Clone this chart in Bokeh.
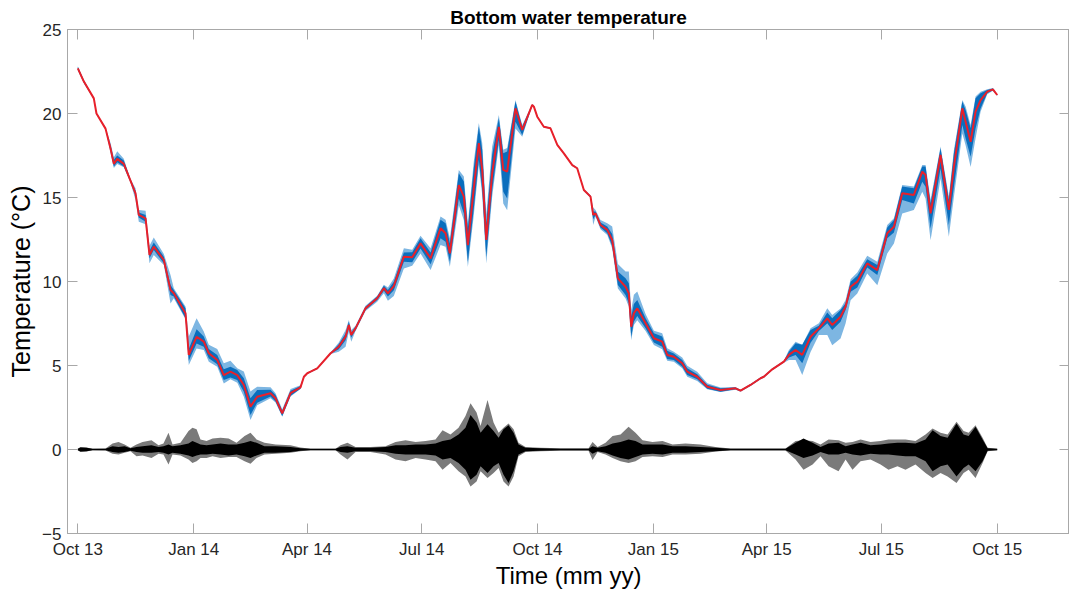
import numpy as np
import pandas as pd
from bokeh.plotting import figure
from bokeh.models import (Range1d, FixedTicker, DatetimeTickFormatter, LinearAxis,
                          DatetimeAxis, ColumnDataSource)
from bokeh.embed import file_html
from bokeh.resources import INLINE

# ---------------- data ----------------
START = "2013-10-01"
tick_dates = ["2013-10-01", "2014-01-01", "2014-04-01", "2014-07-01", "2014-10-01",
              "2015-01-01", "2015-04-01", "2015-07-01", "2015-10-01"]
y_ticks = [-5, 0, 5, 10, 15, 20, 25]

# days since START, smoothed temperature (red)
temp_day = [0, 4.8, 12.7, 14.8, 22.0, 26.0, 28.6, 31.3, 36.5, 41.8,
            45.8, 48.4, 53.8, 56.9, 60.3, 68.3, 73.6, 76.2, 85.5, 88.1,
            94.3, 100.0, 104.0, 110.7, 115.9, 121.2, 126.6, 131.8, 137.1, 142.4,
            153.0, 157.0, 162.3, 168.9, 176.8, 179.5, 182.2, 184.8, 190.1, 200.7,
            207.2, 212.6, 215.2, 217.1, 220.5, 228.4, 237.7, 243.0, 246.2, 250.9,
            258.9, 265.5, 272.1, 280.1, 288.0, 292.0, 295.4, 302.5, 306.5, 309.7,
            314.4, 318.4, 321.1, 324.3, 329.0, 334.3, 337.8, 340.9, 347.5, 352.9,
            360.8, 362.1, 364.8, 370.0, 375.3, 380.7, 385.9, 392.6, 396.5, 401.8,
            407.1, 409.2, 411.1, 415.0, 420.4, 424.3, 428.8, 434.9, 437.5, 439.4,
            441.5, 444.2, 450.8, 457.4, 464.0, 468.0, 473.2, 479.9, 483.9, 491.8,
            499.8, 510.3, 522.2, 526.2, 534.1, 542.1, 544.7, 551.4, 560.6, 564.6,
            569.9, 575.2, 581.8, 588.4, 595.1, 599.0, 605.6, 609.6, 613.6, 618.9,
            626.8, 634.8, 642.7, 648.0, 654.6, 663.8, 670.5, 673.1, 677.1, 685.0,
            691.6, 695.6, 702.3, 704.9, 708.9, 712.8, 716.8, 722.1, 726.6, 730.0]
temp = [22.69, 21.9, 20.9, 20.0, 19.1, 17.9, 17.0, 17.3, 17.0, 16.0,
        15.25, 13.96, 13.76, 11.58, 12.07, 11.28, 9.49, 9.30, 8.11, 5.63,
        6.71, 6.42, 5.73, 5.33, 4.43, 4.63, 4.43, 3.84, 2.55, 3.14,
        3.35, 3.05, 2.15, 3.35, 3.70, 4.33, 4.54, 4.63, 4.83, 5.73,
        6.12, 6.71, 7.41, 6.82, 7.21, 8.40, 9.00, 9.60, 9.30, 9.73,
        11.48, 11.44, 12.27, 11.38, 13.17, 12.87, 11.68, 15.74, 15.05, 12.17,
        15.55, 18.23, 16.64, 12.47, 16.44, 19.21, 16.64, 16.54, 20.31, 19.02,
        20.51, 20.41, 19.81, 19.21, 19.12, 18.13, 17.63, 16.93, 16.74, 15.45,
        15.05, 13.96, 14.06, 13.36, 13.07, 12.47, 10.19, 9.69, 9.30, 7.31,
        8.11, 8.40, 7.51, 6.62, 6.42, 5.63, 5.52, 5.13, 4.63, 4.33,
        3.74, 3.54, 3.64, 3.50, 3.84, 4.24, 4.33, 4.77, 5.23, 5.63,
        5.92, 5.63, 6.71, 7.21, 7.81, 7.41, 7.90, 8.50, 9.69, 9.99,
        11.08, 10.68, 12.87, 13.26, 15.25, 15.15, 16.54, 16.34, 14.06, 17.53,
        14.26, 16.83, 20.31, 19.51, 18.32, 20.11, 20.80, 21.30, 21.44, 21.10]

# spread of the raw records around the red line (dark blue / light blue), at temp_day
dark_up = [0.10, 0.08, 0.03, 0.03, 0.04, 0.20, 0.25, 0.20, 0.20, 0.08,
           0.15, 0.15, 0.20, 0.25, 0.25, 0.20, 0.30, 0.20, 0.30, 0.35,
           0.45, 0.30, 0.25, 0.30, 0.35, 0.30, 0.30, 0.40, 0.50, 0.40,
           0.20, 0.20, 0.15, 0.15, 0.08, 0.05, 0.03, 0.03, 0.03, 0.03,
           0.15, 0.20, 0.20, 0.15, 0.10, 0.10, 0.10, 0.15, 0.20, 0.25,
           0.25, 0.30, 0.30, 0.35, 0.50, 0.60, 0.60, 0.70, 0.90, 1.00,
           1.20, 1.00, 1.20, 1.00, 1.10, 0.50, 1.00, 1.20, 0.40, 0.20,
           0.03, 0.03, 0.03, 0.03, 0.03, 0.03, 0.03, 0.03, 0.03, 0.03,
           0.05, 0.20, 0.10, 0.15, 0.20, 0.35, 0.40, 0.50, 0.60, 0.60,
           0.55, 0.50, 0.30, 0.30, 0.30, 0.25, 0.20, 0.20, 0.20, 0.15,
           0.12, 0.10, 0.05, 0.04, 0.04, 0.04, 0.04, 0.04, 0.04, 0.20,
           0.40, 0.60, 0.40, 0.15, 0.35, 0.40, 0.40, 0.20, 0.30, 0.35,
           0.25, 0.30, 0.35, 0.40, 0.40, 0.40, 0.30, 0.50, 0.60, 0.40,
           0.60, 0.80, 0.40, 0.70, 0.80, 0.80, 0.40, 0.10, 0.05, 0.03]
dark_lo = [-0.10, -0.08, -0.03, -0.03, -0.04, -0.15, -0.15, -0.20, -0.15, -0.08,
           -0.15, -0.15, -0.20, -0.20, -0.20, -0.20, -0.30, -0.20, -0.30, -0.35,
           -0.40, -0.30, -0.30, -0.25, -0.30, -0.35, -0.30, -0.40, -0.50, -0.35,
           -0.20, -0.20, -0.15, -0.15, -0.08, -0.05, -0.03, -0.03, -0.03, -0.03,
           -0.15, -0.20, -0.20, -0.15, -0.10, -0.10, -0.10, -0.15, -0.20, -0.25,
           -0.30, -0.30, -0.30, -0.35, -0.60, -0.50, -0.50, -0.80, -1.00, -1.00,
           -1.20, -1.00, -1.20, -1.00, -1.00, -0.80, -1.30, -1.60, -0.80, -0.30,
           -0.03, -0.03, -0.03, -0.03, -0.03, -0.03, -0.03, -0.03, -0.03, -0.03,
           -0.05, -0.25, -0.10, -0.15, -0.20, -0.35, -0.40, -0.50, -0.60, -0.60,
           -0.50, -0.45, -0.30, -0.25, -0.30, -0.25, -0.20, -0.20, -0.20, -0.15,
           -0.12, -0.10, -0.05, -0.04, -0.04, -0.04, -0.04, -0.04, -0.04, -0.15,
           -0.30, -0.50, -0.35, -0.15, -0.30, -0.30, -0.30, -0.20, -0.30, -0.35,
           -0.25, -0.30, -0.30, -0.35, -0.40, -0.50, -0.60, -0.70, -0.90, -0.80,
           -0.90, -1.20, -1.00, -1.00, -0.90, -1.00, -0.50, -0.10, -0.05, -0.03]
light_up = [0.12, 0.10, 0.05, 0.05, 0.06, 0.35, 0.40, 0.45, 0.30, 0.10,
            0.30, 0.30, 0.45, 0.55, 0.55, 0.35, 0.90, 0.30, 0.40, 1.10,
            1.10, 0.60, 0.50, 0.65, 0.70, 0.65, 0.40, 0.80, 0.90, 0.60,
            0.35, 0.30, 0.25, 0.25, 0.12, 0.08, 0.05, 0.05, 0.05, 0.05,
            0.25, 0.40, 0.30, 0.30, 0.15, 0.15, 0.15, 0.20, 0.35, 0.45,
            0.50, 0.45, 0.45, 0.60, 0.70, 0.80, 0.90, 0.90, 1.20, 1.30,
            1.60, 1.20, 1.60, 1.50, 1.60, 0.70, 1.20, 1.40, 0.50, 0.30,
            0.05, 0.05, 0.05, 0.05, 0.05, 0.05, 0.05, 0.05, 0.05, 0.05,
            0.08, 0.45, 0.20, 0.30, 0.40, 0.80, 0.85, 0.90, 1.30, 1.00,
            1.10, 1.00, 0.55, 0.45, 0.50, 0.40, 0.30, 0.35, 0.35, 0.30,
            0.20, 0.15, 0.08, 0.06, 0.06, 0.06, 0.06, 0.06, 0.06, 0.30,
            0.50, 0.60, 0.50, 0.30, 0.60, 0.60, 0.50, 0.40, 0.45, 0.55,
            0.45, 0.50, 0.50, 0.50, 0.50, 0.50, 0.40, 0.60, 0.80, 0.50,
            0.80, 1.00, 0.50, 0.90, 1.00, 0.90, 0.50, 0.15, 0.08, 0.04]
light_lo = [-0.12, -0.10, -0.05, -0.05, -0.06, -0.25, -0.25, -0.30, -0.20, -0.10,
            -0.40, -0.40, -0.35, -0.50, -0.50, -0.30, -0.80, -0.30, -0.35, -0.60,
            -0.70, -0.50, -0.50, -0.40, -0.50, -0.45, -0.45, -0.70, -0.80, -0.50,
            -0.30, -0.25, -0.20, -0.20, -0.10, -0.08, -0.05, -0.05, -0.05, -0.05,
            -0.30, -0.60, -0.40, -0.40, -0.15, -0.15, -0.20, -0.30, -0.45, -0.60,
            -0.70, -0.50, -0.60, -0.70, -1.00, -0.80, -0.80, -1.20, -1.40, -1.30,
            -1.60, -1.30, -1.50, -1.40, -1.40, -1.10, -2.00, -2.30, -1.20, -0.40,
            -0.05, -0.05, -0.05, -0.05, -0.05, -0.05, -0.05, -0.05, -0.05, -0.05,
            -0.08, -0.60, -0.20, -0.25, -0.30, -0.50, -0.60, -0.70, -0.80, -0.80,
            -0.70, -0.70, -0.45, -0.40, -0.45, -0.35, -0.30, -0.30, -0.30, -0.25,
            -0.15, -0.12, -0.08, -0.06, -0.06, -0.06, -0.06, -0.06, -0.06, -0.30,
            -0.60, -1.20, -0.90, -0.40, -1.00, -1.20, -1.30, -1.00, -0.80, -0.70,
            -0.60, -0.90, -1.20, -1.00, -1.20, -0.90, -1.20, -1.40, -1.60, -1.40,
            -1.60, -1.80, -1.50, -1.40, -1.50, -1.60, -0.70, -0.15, -0.08, -0.04]

# residual (black = record 1, grey = record 2): envelopes around zero
res_day = [0, 2.1, 6.9, 11.7, 22.0, 27.6, 32.3, 37.1, 41.8, 46.6,
           51.4, 58.5, 64.1, 68.0, 72.0, 75.2, 81.5, 87.9, 91.0, 94.3,
           97.4, 102.2, 107.0, 113.3, 119.7, 126.0, 132.4, 137.1, 141.9, 148.2,
           157.0, 168.9, 176.8, 184.8, 204.6, 208.6, 214.1, 220.5, 232.4, 244.3,
           252.3, 260.2, 268.2, 276.1, 284.0, 289.6, 295.9, 302.3, 307.8, 311.8,
           316.6, 319.8, 325.3, 330.1, 334.1, 338.0, 342.0, 346.0, 349.9, 355.5,
           367.4, 383.3, 405.5, 408.7, 412.7, 419.0, 424.6, 430.9, 437.3, 442.8,
           448.4, 456.3, 464.3, 472.2, 482.5, 494.4, 506.3, 518.2, 561.9, 569.9,
           576.2, 583.4, 589.7, 596.1, 604.0, 609.6, 615.1, 621.5, 629.4, 637.4,
           643.7, 650.8, 657.2, 665.1, 673.1, 678.7, 685.0, 690.6, 697.7, 703.3,
           707.3, 712.8, 718.4, 722.4, 730.0]
black_up = [0.04, 0.12, 0.10, 0.04, 0.04, 0.20, 0.15, 0.20, 0.08, 0.15,
            0.20, 0.25, 0.15, 0.20, 0.30, 0.20, 0.25, 0.35, 0.50, 0.40,
            0.30, 0.25, 0.30, 0.35, 0.30, 0.30, 0.40, 0.50, 0.40, 0.20,
            0.20, 0.15, 0.08, 0.04, 0.04, 0.15, 0.20, 0.10, 0.10, 0.15,
            0.25, 0.25, 0.30, 0.30, 0.35, 0.50, 0.60, 0.90, 1.30, 2.05,
            1.60, 1.00, 1.50, 1.10, 0.70, 1.20, 1.45, 1.00, 0.30, 0.10,
            0.08, 0.05, 0.05, 0.20, 0.10, 0.20, 0.35, 0.45, 0.60, 0.50,
            0.30, 0.30, 0.30, 0.20, 0.20, 0.15, 0.10, 0.04, 0.04, 0.40,
            0.65, 0.40, 0.15, 0.35, 0.40, 0.20, 0.30, 0.40, 0.25, 0.30,
            0.35, 0.40, 0.40, 0.35, 0.60, 1.15, 0.80, 0.70, 1.55, 0.90,
            0.80, 1.35, 0.60, 0.08, 0.04]
black_lo = [-0.04, -0.12, -0.10, -0.04, -0.04, -0.15, -0.20, -0.15, -0.08, -0.15,
            -0.20, -0.20, -0.15, -0.20, -0.30, -0.20, -0.25, -0.35, -0.45, -0.35,
            -0.30, -0.30, -0.25, -0.30, -0.35, -0.30, -0.40, -0.50, -0.35, -0.20,
            -0.20, -0.15, -0.08, -0.04, -0.04, -0.15, -0.20, -0.10, -0.10, -0.15,
            -0.25, -0.30, -0.30, -0.30, -0.35, -0.60, -0.50, -0.80, -1.20, -1.80,
            -1.50, -1.00, -1.40, -1.00, -0.80, -1.50, -2.00, -1.30, -0.30, -0.10,
            -0.08, -0.05, -0.05, -0.25, -0.10, -0.20, -0.35, -0.50, -0.60, -0.45,
            -0.30, -0.25, -0.30, -0.20, -0.20, -0.15, -0.10, -0.04, -0.04, -0.30,
            -0.50, -0.35, -0.15, -0.30, -0.30, -0.20, -0.30, -0.35, -0.25, -0.30,
            -0.30, -0.35, -0.40, -0.40, -0.70, -1.30, -1.00, -0.90, -1.60, -1.10,
            -0.90, -1.30, -0.70, -0.08, -0.04]
gray_up = [0.05, 0.15, 0.12, 0.05, 0.06, 0.35, 0.45, 0.30, 0.10, 0.30,
           0.45, 0.55, 0.25, 0.35, 1.00, 0.30, 0.40, 1.10, 1.30, 1.20,
           0.60, 0.50, 0.65, 0.70, 0.65, 0.40, 0.80, 1.00, 0.60, 0.40,
           0.30, 0.25, 0.12, 0.05, 0.05, 0.25, 0.40, 0.15, 0.15, 0.20,
           0.45, 0.55, 0.45, 0.50, 0.60, 1.15, 0.90, 1.30, 2.00, 2.75,
           2.20, 1.40, 2.95, 1.60, 1.00, 1.30, 1.55, 1.20, 0.40, 0.15,
           0.10, 0.08, 0.08, 0.45, 0.15, 0.40, 0.80, 0.90, 1.35, 1.00,
           0.55, 0.45, 0.50, 0.30, 0.35, 0.30, 0.15, 0.06, 0.06, 0.50,
           0.55, 0.50, 0.30, 0.60, 0.55, 0.40, 0.45, 0.60, 0.45, 0.50,
           0.60, 0.60, 0.60, 0.50, 0.90, 1.25, 1.00, 0.90, 1.65, 1.10,
           1.00, 1.45, 0.70, 0.10, 0.05]
gray_lo = [-0.05, -0.15, -0.12, -0.05, -0.06, -0.25, -0.30, -0.20, -0.10, -0.40,
           -0.35, -0.50, -0.25, -0.30, -0.90, -0.30, -0.35, -0.60, -0.80, -0.70,
           -0.50, -0.50, -0.40, -0.50, -0.45, -0.45, -0.70, -0.85, -0.50, -0.30,
           -0.25, -0.20, -0.10, -0.05, -0.05, -0.30, -0.60, -0.15, -0.15, -0.30,
           -0.60, -0.70, -0.50, -0.60, -0.70, -1.20, -0.80, -1.30, -1.60, -2.20,
           -1.90, -1.30, -1.70, -1.40, -1.10, -1.90, -2.20, -1.60, -0.40, -0.15,
           -0.10, -0.08, -0.08, -0.62, -0.15, -0.30, -0.50, -0.70, -0.80, -0.70,
           -0.45, -0.40, -0.45, -0.30, -0.30, -0.25, -0.12, -0.06, -0.06, -0.60,
           -1.20, -0.90, -0.40, -1.00, -1.30, -0.60, -1.20, -0.70, -0.60, -0.90,
           -1.20, -1.00, -1.20, -0.90, -1.40, -1.70, -1.40, -1.60, -2.00, -1.40,
           -1.20, -1.70, -0.80, -0.10, -0.05]

# ---------------- build ----------------
base = pd.Timestamp(START)
t = base + pd.to_timedelta(temp_day, unit="D")
tr = base + pd.to_timedelta(res_day, unit="D")
T = np.array(temp)

src = ColumnDataSource(dict(
    t=t, temp=T,
    dk_hi=T + np.array(dark_up), dk_lo=T + np.array(dark_lo),
    lt_hi=T + np.array(light_up), lt_lo=T + np.array(light_lo)))
rsrc = ColumnDataSource(dict(t=tr, bu=black_up, bl=black_lo, gu=gray_up, gl=gray_lo))

FONT = "Liberation Sans"
AX = "#a8a8a8"
TXT = "#262626"

x0 = base - pd.Timedelta(days=8.2)
x1 = base + pd.Timedelta(days=787.4)

p = figure(width=1069, height=591, x_axis_type="datetime",
           x_range=Range1d(x0, x1), y_range=Range1d(-5, 25),
           output_backend="svg", toolbar_location=None,
           min_border_left=67, min_border_right=0, min_border_top=29, min_border_bottom=57)

p.varea(x="t", y1="gl", y2="gu", source=rsrc, fill_color="#7a7a7a")
p.varea(x="t", y1="bl", y2="bu", source=rsrc, fill_color="#000000")
p.varea(x="t", y1="lt_lo", y2="lt_hi", source=src, fill_color="#7db6e2")
p.varea(x="t", y1="dk_lo", y2="dk_hi", source=src, fill_color="#0a6ebd")
p.line(x="t", y="temp", source=src, line_color="#e8202a", line_width=2)

p.xgrid.grid_line_color = None
p.ygrid.grid_line_color = None
p.outline_line_color = AX
p.background_fill_color = "white"
p.border_fill_color = "white"

tick_ms = [pd.Timestamp(d).value / 1e6 for d in tick_dates]
fmt = DatetimeTickFormatter(days="%b %y", months="%b %y", years="%b %y",
                            hours="%b %y", minutes="%b %y")


def style(ax, labels=True):
    ax.axis_line_color = AX
    ax.major_tick_line_color = AX
    ax.major_tick_in = 10
    ax.major_tick_out = 0
    ax.minor_tick_line_color = None
    ax.major_label_text_font = FONT
    ax.major_label_text_color = TXT
    ax.axis_label_text_font = FONT
    ax.axis_label_text_font_style = "normal"
    ax.axis_label_text_color = "black"
    if labels:
        ax.major_label_text_font_size = "17px"
    else:
        ax.major_label_text_font_size = "1px"
        ax.major_label_text_color = None
        ax.major_label_standoff = 0


xa = p.xaxis[0]
xa.ticker = FixedTicker(ticks=tick_ms)
xa.formatter = fmt
style(xa)
xa.major_label_standoff = 6
xa.axis_label = "Time (mm yy)"
xa.axis_label_text_font_size = "24px"
xa.axis_label_standoff = 0

ya = p.yaxis[0]
ya.ticker = FixedTicker(ticks=y_ticks)
style(ya)
ya.major_label_standoff = 6
ya.axis_label = "Temperature (°C)"
ya.axis_label_text_font_size = "25px"
ya.axis_label_standoff = 4

top = DatetimeAxis(ticker=FixedTicker(ticks=tick_ms), formatter=fmt)
style(top, labels=False)
p.add_layout(top, "above")
right = LinearAxis(ticker=FixedTicker(ticks=y_ticks))
style(right, labels=False)
p.add_layout(right, "right")

p.title.text = "Bottom water temperature"
p.title.align = "center"
p.title.text_font = FONT
p.title.text_font_size = "19px"
p.title.text_font_style = "bold"
p.title.text_color = "black"
p.title.standoff = 3

open("out.html", "w").write(file_html(p, INLINE))
